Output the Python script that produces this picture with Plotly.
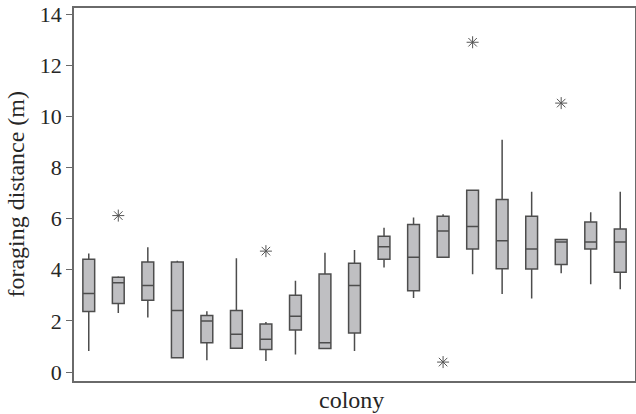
import plotly.graph_objects as go

# One box per colony (no colony labels are shown on the axis)
colony = list(range(1, 20))
q1 = [2.37, 2.68, 2.81, 0.56, 1.15, 0.93, 0.88, 1.64, 0.92, 1.53,
      4.41, 3.18, 4.49, 4.81, 4.04, 4.03, 4.21, 4.81, 3.90]
median = [3.07, 3.49, 3.39, 2.41, 2.00, 1.48, 1.28, 2.18, 1.15, 3.39,
          4.90, 4.49, 5.52, 5.69, 5.14, 4.81, 5.09, 5.09, 5.09]
q3 = [4.41, 3.71, 4.30, 4.30, 2.21, 2.41, 1.88, 3.00, 3.84, 4.26,
      5.31, 5.77, 6.09, 7.11, 6.75, 6.09, 5.18, 5.87, 5.60]
lower = [0.82, 2.31, 2.13, 0.56, 0.46, 0.93, 0.43, 0.69, 0.92, 0.82,
         4.09, 2.90, 4.49, 3.83, 3.05, 2.88, 3.86, 3.43, 3.24]
upper = [4.64, 3.75, 4.88, 4.35, 2.38, 4.45, 1.96, 3.57, 4.67, 4.77,
         5.64, 6.05, 6.17, 7.11, 9.09, 7.05, 5.18, 6.25, 7.05]

outlier_colony = [2, 7, 13, 14, 17]
outlier_value = [6.12, 4.73, 0.39, 12.90, 10.52]

FONT = "Liberation Serif, Times New Roman, serif"
EDGE = "#4d4d4d"
FILL = "#bfbfc2"
FRAME = "#6a6a6a"

fig = go.Figure()
fig.add_trace(
    go.Box(
        x=colony,
        q1=q1,
        median=median,
        q3=q3,
        lowerfence=lower,
        upperfence=upper,
        boxpoints=False,
        width=0.4,
        whiskerwidth=0,
        fillcolor=FILL,
        line={"color": EDGE, "width": 1.5},
        showlegend=False,
        hoverinfo="skip",
    )
)
fig.add_trace(
    go.Scatter(
        x=outlier_colony,
        y=outlier_value,
        mode="markers",
        marker={
            "symbol": "asterisk-open",
            "size": 10,
            "color": "#555555",
            "line": {"color": "#555555", "width": 1},
        },
        showlegend=False,
        hoverinfo="skip",
    )
)

fig.update_layout(
    width=636,
    height=414,
    paper_bgcolor="white",
    plot_bgcolor="white",
    margin={"l": 74, "r": 1, "t": 8, "b": 33},
    font={"family": FONT, "size": 22, "color": "#262626"},
    annotations=[
        {
            "text": "colony",
            "xref": "paper", "yref": "paper",
            "x": 0.4955, "y": -0.051,
            "xanchor": "center", "yanchor": "middle",
            "showarrow": False,
            "font": {"size": 24},
        },
        {
            "text": "foraging distance (m)",
            "xref": "paper", "yref": "paper",
            "x": -0.105, "y": 0.5,
            "xanchor": "center", "yanchor": "middle",
            "textangle": -90,
            "showarrow": False,
            "font": {"size": 24},
        },
    ],
)
fig.update_xaxes(
    range=[0.5, 19.5],
    showticklabels=False,
    ticks="",
    showgrid=False,
    zeroline=False,
    showline=True,
    linecolor=FRAME,
    linewidth=1.5,
    mirror=True,
    automargin=False,
)
fig.update_yaxes(
    range=[-0.35, 14.24],
    tickvals=[0, 2, 4, 6, 8, 10, 12, 14],
    ticks="outside",
    ticklen=6,
    tickcolor=FRAME,
    ticklabeloverflow="allow",
    showgrid=False,
    zeroline=False,
    showline=True,
    linecolor=FRAME,
    linewidth=1.5,
    mirror=True,
    automargin=False,
)

# drop the browser's default 8px body margin so the figure fills the window
fig.write_html(
    "out.html",
    config={"displayModeBar": False},
    post_script="document.body.style.margin = '0';",
)
